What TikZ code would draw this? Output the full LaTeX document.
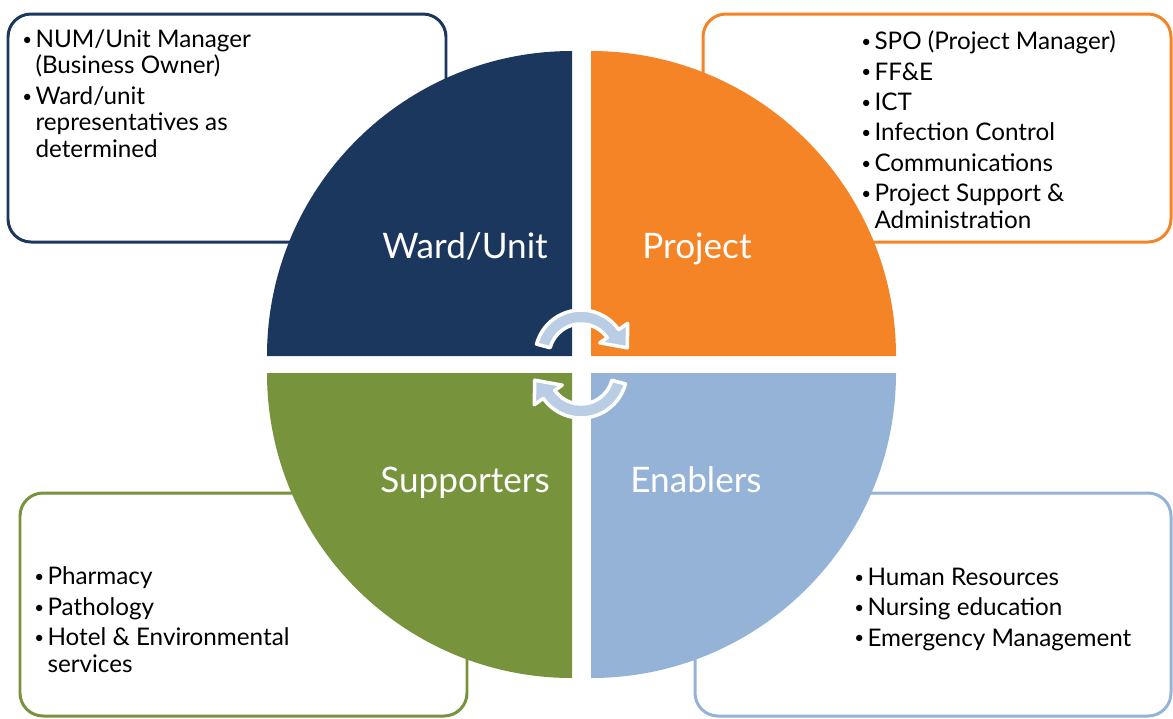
\documentclass[tikz,border=0pt]{standalone}
\usepackage{fontspec}
\setmainfont{Lato}
\definecolor{wardblue}{HTML}{1C375E}
\definecolor{projorange}{HTML}{F58426}
\definecolor{suppgreen}{HTML}{77933C}
\definecolor{enabblue}{HTML}{95B3D7}
\definecolor{cyclefill}{HTML}{B9CDE5}
\newcommand{\itm}{\makebox[7.5pt][l]{\raisebox{1.2pt}{\scalebox{0.7}{\textbullet}}}}
\newcommand{\ind}{\hspace*{7.5pt}}
\tikzset{
  rolebox/.style={line width=1.7pt, rounded corners=0.46cm, fill=white},
  rolename/.style={anchor=base, text=white, font=\fontsize{20}{24}\selectfont},
  members/.style={anchor=base west, align=left, inner sep=0pt,
    font=\fontsize{13.8}{15}\selectfont},
  turnarrow/.style={fill=cyclefill, draw=white, line width=2pt, line join=round}
}
\begin{document}
\begin{tikzpicture}[x=0.02cm,y=-0.02cm]
\useasboundingbox (0,0) rectangle (1173,718);
% boxes behind the circle
\draw[rolebox,draw=wardblue]   (8,14) rectangle (446,242);
\draw[rolebox,draw=projorange] (703,14) rectangle (1171,242);
\draw[rolebox,draw=suppgreen]  (20,493) rectangle (467,716);
\draw[rolebox,draw=enabblue]   (695,493) rectangle (1171,716);
% the four quarters
\fill[wardblue]   (572,356) -- ++(-305,0)
  arc[start angle=180,end angle=270,radius=305] -- cycle;
\fill[projorange] (591,356) -- ++(0,-305)
  arc[start angle=270,end angle=360,radius=305] -- cycle;
\fill[enabblue]   (591,373) -- ++(305,0)
  arc[start angle=0,end angle=90,radius=305] -- cycle;
\fill[suppgreen]  (572,373) -- ++(0,305)
  arc[start angle=90,end angle=180,radius=305] -- cycle;
\node[rolename] (ward)  at (465,258) {Ward/Unit};
\node[rolename] (proj)  at (697,258) {Project};
\node[rolename] (supp)  at (465,492) {Supporters};
\node[rolename] (enab)  at (696,492) {Enablers};
% the two turning arrows
\foreach \c/\r in {{(581,356)}/0,{(581,372)}/180}
  \draw[turnarrow,shift={\c},rotate=\r]
    (195:46) arc[start angle=195,end angle=325,radius=46]
    -- (325:57) -- (350:47) -- (325:23) -- (325:32)
    arc[start angle=325,end angle=195,radius=32] -- cycle;
% members (anchored at the last line)
\node[members] (wardlist) at (22,157)
  {\itm NUM/Unit Manager\\ \ind(Business Owner)\\[2.3pt]
   \itm Ward/unit\\ \ind representatives as\\ \ind determined};
\node[members] (projlist) at (861,228)
  {\itm SPO (Project Manager)\\[2.3pt] \itm FF\&E\\[2.3pt] \itm ICT\\[2.3pt]
   \itm Infection Control\\[2.3pt] \itm Communications\\[2.3pt]
   \itm Project Support \&\\ \ind Administration};
\node[members] (supplist) at (34,672)
  {\itm Pharmacy\\[2.3pt] \itm Pathology\\[2.3pt]
   \itm Hotel \& Environmental\\ \ind services};
\node[members] (enablist) at (854,646)
  {\itm Human Resources\\[2.3pt] \itm Nursing education\\[2.3pt]
   \itm Emergency Management};
\end{tikzpicture}
\end{document}
